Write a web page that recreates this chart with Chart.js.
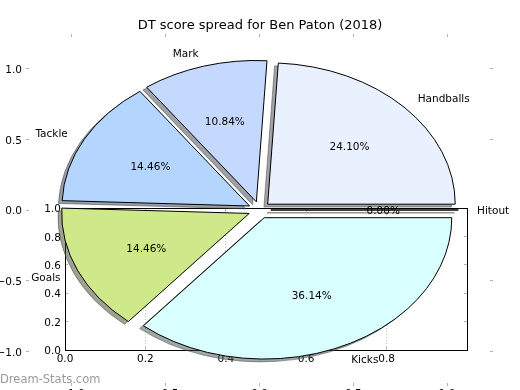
<!DOCTYPE html>
<html lang="en">
<head>
<meta charset="UTF-8">
<title>DT score spread for Ben Paton (2018)</title>
<script src="https://cdn.jsdelivr.net/npm/chart.js"></script>
<style>
  html, body { margin: 0; padding: 0; background: #fff; overflow: hidden; }
  #wrap { position: relative; width: 520px; height: 390px; overflow: hidden; }
  #wrap canvas { position: absolute; left: 0; top: 0; }
  #mark { position: absolute; left: 0; top: 373px; font: 11.5px "DejaVu Sans"; line-height: 13px; color: #9a9a9a; }
</style>
</head>
<body>
<div id="wrap">
  <canvas id="inset" width="520" height="420"></canvas>
  <canvas id="pie" width="520" height="420"></canvas>
  <div id="mark">Dream-Stats.com</div>
</div>
<script>
// DT points per stat (pie slices, counter-clockwise from 3 o'clock)
const categories = ['Handballs', 'Mark', 'Tackle', 'Goals', 'Kicks', 'Hitout'];
const scores = [20, 9, 12, 12, 30, 0];
const sliceColors = ['#eaf1fe', '#c5d9ff', '#b4d5fe', '#cfe98a', '#d8fefe', '#ffe4c4'];

// tick labels
const axisTicks = ['\u22121.0', '\u22120.5', '0.0', '0.5', '1.0'];
const insetXTicks = ['0.0', '0.2', '0.4', '0.6', '0.8', ''];
const insetYTicks = ['0.0', '0.2', '0.4', '0.6', '0.8', '1.0'];

Chart.defaults.font.family = '"DejaVu Sans"';
Chart.defaults.font.size = 10.5;
Chart.defaults.color = '#000';

// short grey tick marks pointing inwards, no grid lines
const markGrid = { drawOnChartArea: false, drawTicks: true, tickLength: -3, tickColor: '#b3b3b3', color: '#b3b3b3' };
const TEXT_DROP = 1.5; // canvas 'middle' sits a bit higher than matplotlib's centre

function shade(hex) {
  const n = parseInt(hex.slice(1), 16);
  const r = (n >> 16) & 255, g = (n >> 8) & 255, b = n & 255;
  return 'rgba(' + Math.round(r * 0.3) + ',' + Math.round(g * 0.3) + ',' + Math.round(b * 0.3) + ',0.5)';
}

const piePlugin = {
  id: 'pie',
  afterDatasetsDraw(chart, args, opts) {
    const { ctx, scales: { x, y } } = chart;
    const total = scores.reduce((a, b) => a + b, 0);
    const rx = x.getPixelForValue(1) - x.getPixelForValue(0);
    const ry = y.getPixelForValue(0) - y.getPixelForValue(1);

    let a = 0;
    const wedges = scores.map((v, i) => {
      const a0 = a;
      a += v / total * 2 * Math.PI;
      const mid = (a0 + a) / 2;
      return {
        a0: a0, a1: a, mid: mid,
        ox: opts.explode * Math.cos(mid), oy: opts.explode * Math.sin(mid),
        color: sliceColors[i], label: categories[i],
        pct: (v / total * 100).toFixed(2) + '%'
      };
    });

    const path = (w, dx, dy) => {
      const cx = x.getPixelForValue(w.ox + dx), cy = y.getPixelForValue(w.oy + dy);
      ctx.beginPath();
      ctx.moveTo(cx, cy);
      ctx.ellipse(cx, cy, rx, ry, 0, -w.a0, -w.a1, true);
      ctx.closePath();
    };

    ctx.save();
    ctx.lineWidth = 1;
    // shadows first, under every wedge
    wedges.forEach(w => {
      path(w, -opts.shadow, -opts.shadow);
      ctx.fillStyle = shade(w.color);
      ctx.strokeStyle = shade(w.color);
      ctx.fill();
      ctx.stroke();
    });
    wedges.forEach(w => {
      path(w, 0, 0);
      ctx.fillStyle = w.color;
      ctx.strokeStyle = '#000';
      ctx.fill();
      ctx.stroke();
    });

    ctx.fillStyle = '#000';
    ctx.font = '10.5px "DejaVu Sans"';
    ctx.textBaseline = 'middle';
    wedges.forEach(w => {
      const lx = w.ox + 1.1 * Math.cos(w.mid), ly = w.oy + 1.1 * Math.sin(w.mid);
      ctx.textAlign = lx > 0 ? 'left' : 'right';
      ctx.fillText(w.label, x.getPixelForValue(lx), y.getPixelForValue(ly) + TEXT_DROP);
      const px = w.ox + 0.6 * Math.cos(w.mid), py = w.oy + 0.6 * Math.sin(w.mid);
      ctx.textAlign = 'center';
      ctx.fillText(w.pct, x.getPixelForValue(px), y.getPixelForValue(py) + TEXT_DROP);
    });
    ctx.restore();
  }
};

// the stray unit axes box sitting behind the pie
new Chart(document.getElementById('inset'), {
  type: 'scatter',
  data: { datasets: [] },
  options: {
    responsive: false,
    animation: false,
    events: [],
    layout: { padding: 0 },
    plugins: { legend: { display: false }, tooltip: { enabled: false } },
    scales: {
      x: {
        position: 'bottom', min: 0, max: 1,
        ticks: { stepSize: 0.2, padding: 6, maxRotation: 0, autoSkip: false, callback: (v, i) => insetXTicks[i] },
        grid: { drawOnChartArea: true, color: '#c4c4c4', drawTicks: true, tickLength: -3, tickColor: '#b3b3b3' },
        border: { display: true, color: '#000', width: 1, dash: [1, 2] },
        afterFit: s => { s.height = 70; }
      },
      xTop: {
        axis: 'x', position: 'top', min: 0, max: 1,
        ticks: { display: false, stepSize: 0.2 },
        grid: markGrid,
        border: { display: true, color: '#000', width: 1 },
        afterFit: s => { s.height = 208; }
      },
      y: {
        position: 'left', min: 0, max: 1,
        ticks: { stepSize: 0.2, padding: 7, labelOffset: TEXT_DROP, autoSkip: false, callback: (v, i) => insetYTicks[i] },
        grid: markGrid,
        border: { display: true, color: '#000', width: 1 },
        afterFit: s => { s.width = 65; }
      },
      yRight: {
        axis: 'y', position: 'right', min: 0, max: 1,
        ticks: { display: false, stepSize: 0.2 },
        grid: markGrid,
        border: { display: true, color: '#000', width: 1 },
        afterFit: s => { s.width = 53; }
      }
    }
  }
});

// main pie axes (frame hidden, ticks only)
new Chart(document.getElementById('pie'), {
  type: 'scatter',
  data: { datasets: [] },
  options: {
    responsive: false,
    animation: false,
    events: [],
    layout: { padding: 0 },
    plugins: {
      legend: { display: false },
      tooltip: { enabled: false },
      title: {
        display: true,
        text: 'DT score spread for Ben Paton (2018)',
        color: '#000',
        font: { size: 13, weight: 'normal' },
        padding: { top: 18.2, bottom: 0 }
      },
      pie: { explode: 0.06, shadow: 0.02 }
    },
    scales: {
      x: {
        position: 'bottom', min: -1.245, max: 1.245,
        ticks: { stepSize: 0.5, includeBounds: false, padding: 4.5, maxRotation: 0, autoSkip: false, callback: (v, i) => axisTicks[i] },
        grid: markGrid,
        border: { display: false },
        afterFit: s => { s.height = 34; }
      },
      xTop: {
        axis: 'x', position: 'top', min: -1.245, max: 1.245,
        ticks: { display: false, stepSize: 0.5, includeBounds: false },
        grid: markGrid,
        border: { display: false },
        afterFit: s => { s.height = 0.2; }
      },
      y: {
        position: 'left', min: -1.245, max: 1.245,
        ticks: { stepSize: 0.5, includeBounds: false, padding: 7, labelOffset: TEXT_DROP, autoSkip: false, callback: (v, i) => axisTicks[i] },
        grid: markGrid,
        border: { display: false },
        afterFit: s => { s.width = 26; }
      },
      yRight: {
        axis: 'y', position: 'right', min: -1.245, max: 1.245,
        ticks: { display: false, stepSize: 0.5, includeBounds: false },
        grid: markGrid,
        border: { display: false },
        afterFit: s => { s.width = 27; }
      }
    }
  },
  plugins: [piePlugin]
});
</script>
</body>
</html>
